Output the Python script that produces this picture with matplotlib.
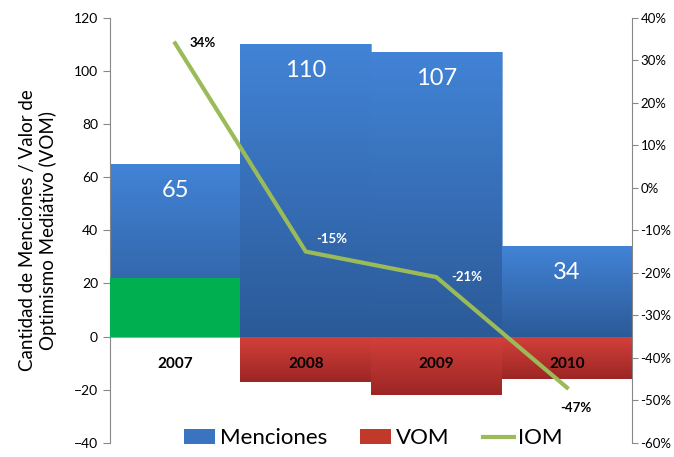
import matplotlib.pyplot as plt
import numpy as np
from matplotlib.colors import LinearSegmentedColormap
from matplotlib.patches import Patch
from matplotlib.lines import Line2D

plt.rcParams['font.family'] = ['Lato', 'DejaVu Sans']

years = ["2007", "2008", "2009", "2010"]
menciones = [65, 110, 107, 34]
vom = [22, -17, -22, -16]
iom = [34, -15, -21, -47]
iom_labels = ["34%", "-15%", "-21%", "-47%"]

blue_cm = LinearSegmentedColormap.from_list("b", ["#2B5A98", "#4283D6"])
red_cm = LinearSegmentedColormap.from_list("r", ["#9C2624", "#D4403B"])


def gradient_bar(ax, bar, cmap):
    # paint a vertical gradient clipped to the bar
    x, y = bar.get_x(), bar.get_y()
    w, h = bar.get_width(), bar.get_height()
    grad = np.linspace(0, 1, 100).reshape(-1, 1)
    y0, y1 = min(y, y + h), max(y, y + h)
    im = ax.imshow(grad, cmap=cmap, aspect="auto", origin="lower",
                   extent=[x, x + w, y0, y1], zorder=bar.get_zorder())
    im.set_clip_path(bar)
    bar.set_facecolor("none")


fig = plt.figure(figsize=(6.74, 4.57), dpi=100)
ax = fig.add_axes([0.163, 0.031, 0.775, 0.930])
xs = np.arange(len(years))

bars_m = ax.bar(xs, menciones, width=1.0, color="#3A74C0", edgecolor="#6F9AD3",
                linewidth=0.6, zorder=2)
for b in bars_m:
    gradient_bar(ax, b, blue_cm)

vom_bars = ax.bar(xs, vom, width=1.0, color="#C0392B", edgecolor="none", zorder=3)
for b, v in zip(vom_bars, vom):
    if v > 0:
        b.set_facecolor("#00B050")
    else:
        gradient_bar(ax, b, red_cm)

for x, m in zip(xs, menciones):
    ax.text(x, m - 10, str(m), color="white", ha="center", va="center",
            fontsize=17, zorder=5)
for x, yr in zip(xs, years):
    ax.text(x, -10.5, yr, color="black", ha="center", va="center",
            fontsize=11, fontweight="bold", zorder=5)

ax.set_xlim(-0.5, 3.5)
ax.set_ylim(-40, 120)
ax.set_yticks(range(-40, 121, 20))
ax.set_xticks([])
ax.tick_params(axis="y", labelsize=10, color="#888888", length=5)
for s in ["top", "bottom", "right"]:
    ax.spines[s].set_visible(False)
ax.spines["left"].set_color("#888888")
ax.set_ylabel("Cantidad de Menciones / Valor de\nOptimismo Mediátivo (VOM)",
              fontsize=13.5, labelpad=12)

ax2 = ax.twinx()
ax2.plot(xs, iom, color="#9BBB59", linewidth=3, zorder=6)
ax2.set_ylim(-60, 40)
ax2.set_yticks(range(-60, 41, 10))
ax2.set_yticklabels([f"{t}%" for t in range(-60, 41, 10)])
ax2.tick_params(axis="y", labelsize=9.5, color="#888888", length=4, pad=2)
for s in ["top", "bottom", "left"]:
    ax2.spines[s].set_visible(False)
ax2.spines["right"].set_color("#888888")

offsets = [(0.21, 0, "black"), (0.2, 3, "white"), (0.23, 0, "white"),
           (0.07, -4.8, "black")]
for x, v, lab, (dx, dy, c) in zip(xs, iom, iom_labels, offsets):
    ax2.text(x + dx, v + dy, lab, color=c, ha="center", va="center",
             fontsize=9.5, fontweight="bold", zorder=7)

handles = [Patch(facecolor="#3A74C0"), Patch(facecolor="#C0392B"),
           Line2D([], [], color="#9BBB59", linewidth=3)]
fig.legend(handles, ["Menciones", "VOM", "IOM"], loc="lower center",
           bbox_to_anchor=(0.554, -0.025), ncol=3, frameon=False, fontsize=16,
           handlelength=1.4, handleheight=0.7, handletextpad=0.2, columnspacing=1.5)

fig.savefig("out.png", dpi=100)
